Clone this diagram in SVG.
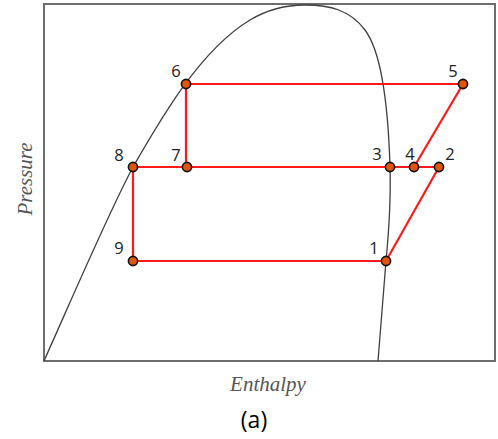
<svg xmlns="http://www.w3.org/2000/svg" width="498" height="439" viewBox="0 0 498 439">
<style>
.frame{fill:#fff;stroke:#6e6e6e;stroke-width:2}
.curve{fill:none;stroke:#404040;stroke-width:1.3}
.cyc{fill:none;stroke:#ff1a1a;stroke-width:2.2}
.pt{fill:#e0560a;stroke:#111;stroke-width:1.6}
.lbl{font-family:"Open Sans","Liberation Sans",sans-serif;font-size:16.5px;fill:#222;text-anchor:middle}
.ax{font-family:"Liberation Serif",serif;font-style:italic;font-size:21px;fill:#555;text-anchor:middle}
</style>
<rect width="498" height="439" fill="#fff"/>
<rect class="frame" x="44" y="4" width="451" height="357"/>
<path class="curve" d="M44,361 C80,280 110,210 133,167 C160,120 200,50 250,20 C270,8 290,5 305,5 C330,5 350,10 365,30 C380,50 388,100 390,167 C391,200 389,230 386,261 L378,361"/>
<g id="connectors">
<path class="cyc" d="M186,84 H463 M186,84 V167 M133,167 H439 M133,167 V261 H386 L439,167 M414,167 L463,84"/>
</g>
<g id="n1"><circle class="pt" cx="386" cy="261" r="4.6"/><text class="lbl" x="374" y="254">1</text></g>
<g id="n2"><circle class="pt" cx="439" cy="167" r="4.6"/><text class="lbl" x="450" y="160">2</text></g>
<g id="n3"><circle class="pt" cx="390" cy="167" r="4.6"/><text class="lbl" x="377" y="160">3</text></g>
<g id="n4"><circle class="pt" cx="414" cy="167" r="4.6"/><text class="lbl" x="410" y="160">4</text></g>
<g id="n5"><circle class="pt" cx="463" cy="84" r="4.6"/><text class="lbl" x="453" y="77">5</text></g>
<g id="n6"><circle class="pt" cx="186" cy="84" r="4.6"/><text class="lbl" x="176" y="77">6</text></g>
<g id="n7"><circle class="pt" cx="187" cy="167" r="4.6"/><text class="lbl" x="176" y="161">7</text></g>
<g id="n8"><circle class="pt" cx="133" cy="167" r="4.6"/><text class="lbl" x="119" y="161">8</text></g>
<g id="n9"><circle class="pt" cx="133" cy="261" r="4.6"/><text class="lbl" x="119" y="254">9</text></g>
<text class="ax" x="268" y="391">Enthalpy</text>
<text class="ax" transform="translate(32,179) rotate(-90)">Pressure</text>
<text x="254" y="428" font-family="'Open Sans','Liberation Sans',sans-serif" font-size="23" fill="#000" text-anchor="middle">(a)</text>
</svg>
